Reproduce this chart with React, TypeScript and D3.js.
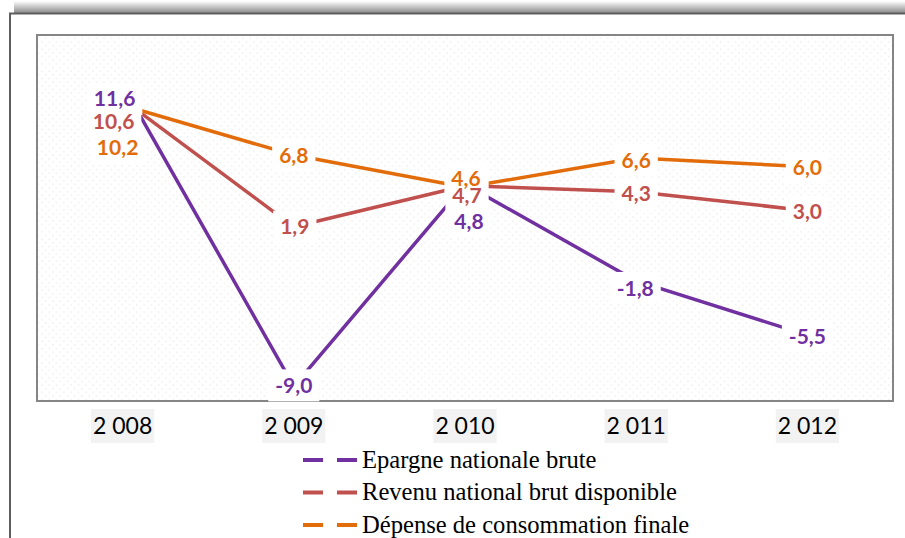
import React, { useEffect, useRef } from "react";
import * as d3 from "d3";

const years = ["2 008", "2 009", "2 010", "2 011", "2 012"];
const epargne = [11.6, -9.0, 4.8, -1.8, -5.5];
const revenu = [10.6, 1.9, 4.7, 4.3, 3.0];
const depense = [10.2, 6.8, 4.6, 6.6, 6.0];
const seriesNames = [
  "Epargne nationale brute",
  "Revenu national brut disponible",
  "Dépense de consommation finale",
];
const colors = ["#7030A0", "#C0504D", "#E36C0A"];
// label nudges in px relative to the point (layout only)
const labelDx = [
  [-8, 0, 4, -1, 0],
  [-9, 1, 2, 0, 0],
  [-5, 0, 1, 0, 0],
];
const labelDy = [
  [14, -1, 37, 7, 1],
  [22, 0, 10, 2, 1],
  [42, 0, -9, 2, 1],
];

const fmt = (v: number) => v.toFixed(1).replace(".", ",");

export default function App() {
  const ref = useRef<SVGSVGElement | null>(null);

  useEffect(() => {
    const svg = d3.select(ref.current);
    svg.selectAll("*").remove();
    const W = 905, H = 538;
    const plot = { l: 37, t: 35, r: 893, b: 401 };
    const series = [epargne, revenu, depense];

    const defs = svg.append("defs");
    const pat = defs
      .append("pattern")
      .attr("id", "dots")
      .attr("width", 7.3)
      .attr("height", 7.3)
      .attr("patternUnits", "userSpaceOnUse");
    pat.append("rect").attr("width", 7.3).attr("height", 7.3).attr("fill", "#ffffff");
    pat.append("circle").attr("cx", 1.8).attr("cy", 1.8).attr("r", 0.75).attr("fill", "#e6e6e6");
    pat.append("circle").attr("cx", 5.45).attr("cy", 5.45).attr("r", 0.75).attr("fill", "#e6e6e6");

    const grad = defs
      .append("linearGradient")
      .attr("id", "shadow")
      .attr("x1", 0)
      .attr("y1", 0)
      .attr("x2", 0)
      .attr("y2", 1);
    grad.append("stop").attr("offset", "0%").attr("stop-color", "#ffffff");
    grad.append("stop").attr("offset", "100%").attr("stop-color", "#8a8a8a");

    svg.append("rect").attr("width", W).attr("height", H).attr("fill", "#ffffff");

    // outer frame with shadow
    svg.append("rect").attr("x", 14).attr("y", 1).attr("width", W - 14).attr("height", 12).attr("fill", "url(#shadow)");
    svg.append("line").attr("x1", 9).attr("x2", W).attr("y1", 13.5).attr("y2", 13.5).attr("stroke", "#5e5e5e").attr("stroke-width", 2);
    svg.append("line").attr("x1", 10).attr("x2", 10).attr("y1", 13).attr("y2", H).attr("stroke", "#5e5e5e").attr("stroke-width", 2);

    const x = d3.scaleBand<string>().domain(years).range([plot.l, plot.r]);
    const cx = (i: number) => (x(years[i]) as number) + x.bandwidth() / 2;
    const y = d3.scaleLinear().domain([-10, 15]).range([plot.b, plot.t]);

    // plot area
    svg
      .append("rect")
      .attr("x", plot.l)
      .attr("y", plot.t)
      .attr("width", plot.r - plot.l)
      .attr("height", plot.b - plot.t)
      .attr("fill", "url(#dots)")
      .attr("stroke", "#858585")
      .attr("stroke-width", 2);

    // lines
    const line = d3
      .line<number>()
      .x((_, i) => cx(i))
      .y((d) => y(d));
    series.forEach((s, k) => {
      svg
        .append("path")
        .datum(s)
        .attr("d", line)
        .attr("fill", "none")
        .attr("stroke", colors[k])
        .attr("stroke-width", 3.5)
        .attr("stroke-linejoin", "round");
    });

    // data labels
    const fs = 21;
    const boxG = svg.append("g");
    const txtG = svg.append("g");
    series.forEach((s, k) => {
      s.forEach((v, i) => {
        const lx = cx(i) + labelDx[k][i];
        const ly = y(v) + labelDy[k][i];
        const t = txtG
          .append("text")
          .attr("x", lx)
          .attr("y", ly + fs * 0.36)
          .attr("text-anchor", "middle")
          .attr("font-family", "Lato, 'Open Sans', sans-serif")
          .attr("font-weight", 700)
          .attr("font-size", fs)
          .attr("fill", colors[k])
          .text(fmt(v));
        const w = (t.node() as SVGTextElement).getComputedTextLength();
        boxG
          .append("rect")
          .attr("x", lx - w / 2 - 7)
          .attr("y", ly - 16)
          .attr("width", w + 14)
          .attr("height", 32)
          .attr("fill", "#ffffff");
      });
    });

    // x-axis labels
    const xfs = 23;
    years.forEach((yr, i) => {
      const g = svg.append("g");
      const r = g.append("rect");
      const t = g
        .append("text")
        .attr("x", cx(i))
        .attr("y", 426 + xfs * 0.36)
        .attr("text-anchor", "middle")
        .attr("font-family", "Lato, 'Open Sans', sans-serif")
        .attr("font-size", xfs)
        .attr("fill", "#000000")
        .text(yr);
      const w = (t.node() as SVGTextElement).getComputedTextLength();
      r.attr("x", cx(i) - w / 2 - 2)
        .attr("y", 409)
        .attr("width", w + 4)
        .attr("height", 34)
        .attr("fill", "#f2f2f2");
    });

    // legend
    const legY = [460, 492.5, 525];
    seriesNames.forEach((name, k) => {
      svg
        .append("line")
        .attr("x1", 303)
        .attr("x2", 357)
        .attr("y1", legY[k])
        .attr("y2", legY[k])
        .attr("stroke", colors[k])
        .attr("stroke-width", 4)
        .attr("stroke-dasharray", "20 14");
      svg
        .append("text")
        .attr("x", 362)
        .attr("y", legY[k] + 7.5)
        .attr("font-family", "'Liberation Serif', 'DejaVu Serif', serif")
        .attr("font-size", 24.6)
        .attr("fill", "#000000")
        .text(name);
    });
  }, []);

  return (
    <svg
      ref={ref}
      width={905}
      height={538}
      style={{ position: "absolute", left: 0, top: 0, display: "block" }}
    />
  );
}
